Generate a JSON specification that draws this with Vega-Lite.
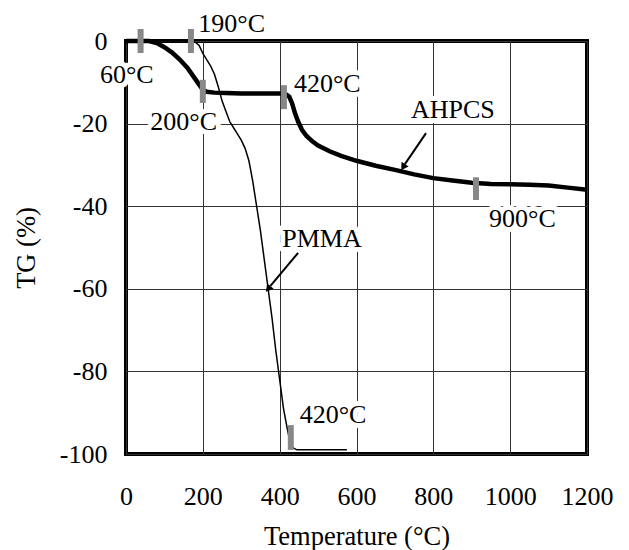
{
  "$schema": "https://vega.github.io/schema/vega-lite/v6.json",
  "width": 461,
  "height": 413,
  "autosize": "none",
  "padding": {"left": 126, "top": 41, "right": 42, "bottom": 96},
  "background": "white",
  "config": {
    "font": "Liberation Serif",
    "view": {"stroke": "black", "strokeWidth": 4},
    "axis": {
      "labelFont": "Liberation Serif",
      "titleFont": "Liberation Serif",
      "labelFontSize": 26,
      "titleFontSize": 26.5,
      "labelColor": "black",
      "titleColor": "black",
      "titleFontWeight": "normal",
      "labelOverlap": false,
      "labelFlush": false,
      "labelExpr": "'' + datum.value",
      "ticks": false,
      "tickSize": 0,
      "domain": false,
      "grid": true,
      "gridColor": "#333333",
      "gridWidth": 1,
      "gridOpacity": 1
    }
  },
  "datasets": {
    "tg": [
      {"series": "AHPCS", "temp": 0, "tg": 0},
      {"series": "AHPCS", "temp": 20, "tg": 0},
      {"series": "AHPCS", "temp": 60, "tg": 0},
      {"series": "AHPCS", "temp": 80, "tg": -0.5},
      {"series": "AHPCS", "temp": 100, "tg": -1.5},
      {"series": "AHPCS", "temp": 120, "tg": -2.8},
      {"series": "AHPCS", "temp": 140, "tg": -4.5},
      {"series": "AHPCS", "temp": 160, "tg": -6.5},
      {"series": "AHPCS", "temp": 175, "tg": -8.5},
      {"series": "AHPCS", "temp": 190, "tg": -10.5},
      {"series": "AHPCS", "temp": 200, "tg": -11.8},
      {"series": "AHPCS", "temp": 210, "tg": -12.3},
      {"series": "AHPCS", "temp": 230, "tg": -12.5},
      {"series": "AHPCS", "temp": 260, "tg": -12.6},
      {"series": "AHPCS", "temp": 300, "tg": -12.7},
      {"series": "AHPCS", "temp": 350, "tg": -12.7},
      {"series": "AHPCS", "temp": 400, "tg": -12.7},
      {"series": "AHPCS", "temp": 415, "tg": -12.8},
      {"series": "AHPCS", "temp": 425, "tg": -13.5},
      {"series": "AHPCS", "temp": 432, "tg": -15},
      {"series": "AHPCS", "temp": 440, "tg": -17.5},
      {"series": "AHPCS", "temp": 448, "tg": -19.5},
      {"series": "AHPCS", "temp": 458, "tg": -21.5},
      {"series": "AHPCS", "temp": 470, "tg": -23},
      {"series": "AHPCS", "temp": 485, "tg": -24.3},
      {"series": "AHPCS", "temp": 500, "tg": -25.3},
      {"series": "AHPCS", "temp": 530, "tg": -26.7},
      {"series": "AHPCS", "temp": 560, "tg": -27.8},
      {"series": "AHPCS", "temp": 600, "tg": -29},
      {"series": "AHPCS", "temp": 650, "tg": -30.2},
      {"series": "AHPCS", "temp": 700, "tg": -31.2},
      {"series": "AHPCS", "temp": 750, "tg": -32.3},
      {"series": "AHPCS", "temp": 800, "tg": -33.2},
      {"series": "AHPCS", "temp": 850, "tg": -33.8},
      {"series": "AHPCS", "temp": 900, "tg": -34.3},
      {"series": "AHPCS", "temp": 950, "tg": -34.6},
      {"series": "AHPCS", "temp": 1000, "tg": -34.7},
      {"series": "AHPCS", "temp": 1050, "tg": -34.8},
      {"series": "AHPCS", "temp": 1100, "tg": -35},
      {"series": "AHPCS", "temp": 1150, "tg": -35.5},
      {"series": "AHPCS", "temp": 1200, "tg": -36},
      {"series": "PMMA", "temp": 0, "tg": 0},
      {"series": "PMMA", "temp": 150, "tg": 0},
      {"series": "PMMA", "temp": 180, "tg": -0.3},
      {"series": "PMMA", "temp": 190, "tg": -1},
      {"series": "PMMA", "temp": 200, "tg": -3},
      {"series": "PMMA", "temp": 210, "tg": -4.5},
      {"series": "PMMA", "temp": 220, "tg": -6},
      {"series": "PMMA", "temp": 230, "tg": -8},
      {"series": "PMMA", "temp": 240, "tg": -11},
      {"series": "PMMA", "temp": 250, "tg": -14.5},
      {"series": "PMMA", "temp": 260, "tg": -17},
      {"series": "PMMA", "temp": 270, "tg": -19.5},
      {"series": "PMMA", "temp": 280, "tg": -21},
      {"series": "PMMA", "temp": 290, "tg": -22.5},
      {"series": "PMMA", "temp": 300, "tg": -24},
      {"series": "PMMA", "temp": 310, "tg": -26},
      {"series": "PMMA", "temp": 320, "tg": -29},
      {"series": "PMMA", "temp": 330, "tg": -34},
      {"series": "PMMA", "temp": 340, "tg": -40},
      {"series": "PMMA", "temp": 350, "tg": -46},
      {"series": "PMMA", "temp": 360, "tg": -53},
      {"series": "PMMA", "temp": 370, "tg": -60},
      {"series": "PMMA", "temp": 380, "tg": -67},
      {"series": "PMMA", "temp": 390, "tg": -75},
      {"series": "PMMA", "temp": 400, "tg": -82},
      {"series": "PMMA", "temp": 410, "tg": -89},
      {"series": "PMMA", "temp": 420, "tg": -94},
      {"series": "PMMA", "temp": 428, "tg": -97.5},
      {"series": "PMMA", "temp": 435, "tg": -98.5},
      {"series": "PMMA", "temp": 445, "tg": -99},
      {"series": "PMMA", "temp": 500, "tg": -99},
      {"series": "PMMA", "temp": 575, "tg": -99}
    ],
    "markers": [
      {"temp": 38, "top": 2.9, "bottom": -2.9},
      {"temp": 169, "top": 2.9, "bottom": -2.9},
      {"temp": 200, "top": -9.4, "bottom": -15},
      {"temp": 411, "top": -10.7, "bottom": -16.5},
      {"temp": 911, "top": -33, "bottom": -38.5},
      {"temp": 429, "top": -93, "bottom": -99}
    ],
    "labels": [
      {"label": "60°C", "temp": 2, "tg": -10.2},
      {"label": "190°C", "temp": 275, "tg": 2.2},
      {"label": "200°C", "temp": 150, "tg": -21.5},
      {"label": "420°C", "temp": 524, "tg": -12.3},
      {"label": "AHPCS", "temp": 851, "tg": -18.6},
      {"label": "900°C", "temp": 1032, "tg": -45},
      {"label": "PMMA", "temp": 510, "tg": -49.9},
      {"label": "420°C", "temp": 539, "tg": -92.5}
    ],
    "arrows": [
      {"name": "AHPCS", "temp": 781, "tg": -22.3, "temp2": 726, "tg2": -29.8, "tipTemp": 723, "tipTg": -30.3},
      {"name": "PMMA", "temp": 448, "tg": -51.3, "temp2": 376, "tg2": -59.3, "tipTemp": 372, "tipTg": -59.8}
    ]
  },
  "layer": [
    {
      "data": {"name": "labels"},
      "mark": {"type": "text", "clip": false, "align": "center", "baseline": "alphabetic", "fontSize": 26, "font": "Liberation Serif", "stroke": "white", "strokeWidth": 10, "strokeJoin": "round", "fill": "white"},
      "encoding": {
        "x": {"field": "temp", "type": "quantitative", "scale": {"domain": [0, 1200]}, "axis": {"values": [0, 200, 400, 600, 800, 1000, 1200], "title": "Temperature (°C)", "labelPadding": 29, "titleY": 82, "titleBaseline": "middle"}},
        "y": {"field": "tg", "type": "quantitative", "scale": {"domain": [-100, 0]}, "axis": {"values": [0, -20, -40, -60, -80, -100], "title": "TG (%)", "labelPadding": 19, "titleX": -100, "titleBaseline": "middle"}},
        "text": {"field": "label"}
      }
    },
    {
      "data": {"name": "tg"},
      "transform": [{"filter": "datum.series === 'PMMA'"}],
      "mark": {"type": "line", "color": "black", "strokeWidth": 1.5, "clip": false},
      "encoding": {
        "x": {"field": "temp", "type": "quantitative"},
        "y": {"field": "tg", "type": "quantitative"}
      }
    },
    {
      "data": {"name": "tg"},
      "transform": [{"filter": "datum.series === 'AHPCS'"}],
      "mark": {"type": "line", "color": "black", "strokeWidth": 4.5, "clip": false},
      "encoding": {
        "x": {"field": "temp", "type": "quantitative"},
        "y": {"field": "tg", "type": "quantitative"}
      }
    },
    {
      "data": {"name": "markers"},
      "mark": {"type": "rule", "color": "#888888", "strokeWidth": 6, "clip": false},
      "encoding": {
        "x": {"field": "temp", "type": "quantitative"},
        "y": {"field": "top", "type": "quantitative"},
        "y2": {"field": "bottom"}
      }
    },
    {
      "data": {"name": "arrows"},
      "mark": {"type": "rule", "color": "black", "strokeWidth": 2},
      "encoding": {
        "x": {"field": "temp", "type": "quantitative"},
        "y": {"field": "tg", "type": "quantitative"},
        "x2": {"field": "temp2"},
        "y2": {"field": "tg2"}
      }
    },
    {
      "data": {"name": "arrows"},
      "transform": [{"filter": "datum.name === 'AHPCS'"}],
      "mark": {"type": "point", "shape": "triangle", "filled": true, "color": "black", "size": 70, "angle": 213, "opacity": 1},
      "encoding": {
        "x": {"field": "tipTemp", "type": "quantitative"},
        "y": {"field": "tipTg", "type": "quantitative"}
      }
    },
    {
      "data": {"name": "arrows"},
      "transform": [{"filter": "datum.name === 'PMMA'"}],
      "mark": {"type": "point", "shape": "triangle", "filled": true, "color": "black", "size": 70, "angle": 219, "opacity": 1},
      "encoding": {
        "x": {"field": "tipTemp", "type": "quantitative"},
        "y": {"field": "tipTg", "type": "quantitative"}
      }
    },
    {
      "data": {"name": "labels"},
      "mark": {"type": "text", "clip": false, "align": "center", "baseline": "alphabetic", "fontSize": 26, "font": "Liberation Serif", "color": "black"},
      "encoding": {
        "x": {"field": "temp", "type": "quantitative"},
        "y": {"field": "tg", "type": "quantitative"},
        "text": {"field": "label"}
      }
    }
  ]
}
